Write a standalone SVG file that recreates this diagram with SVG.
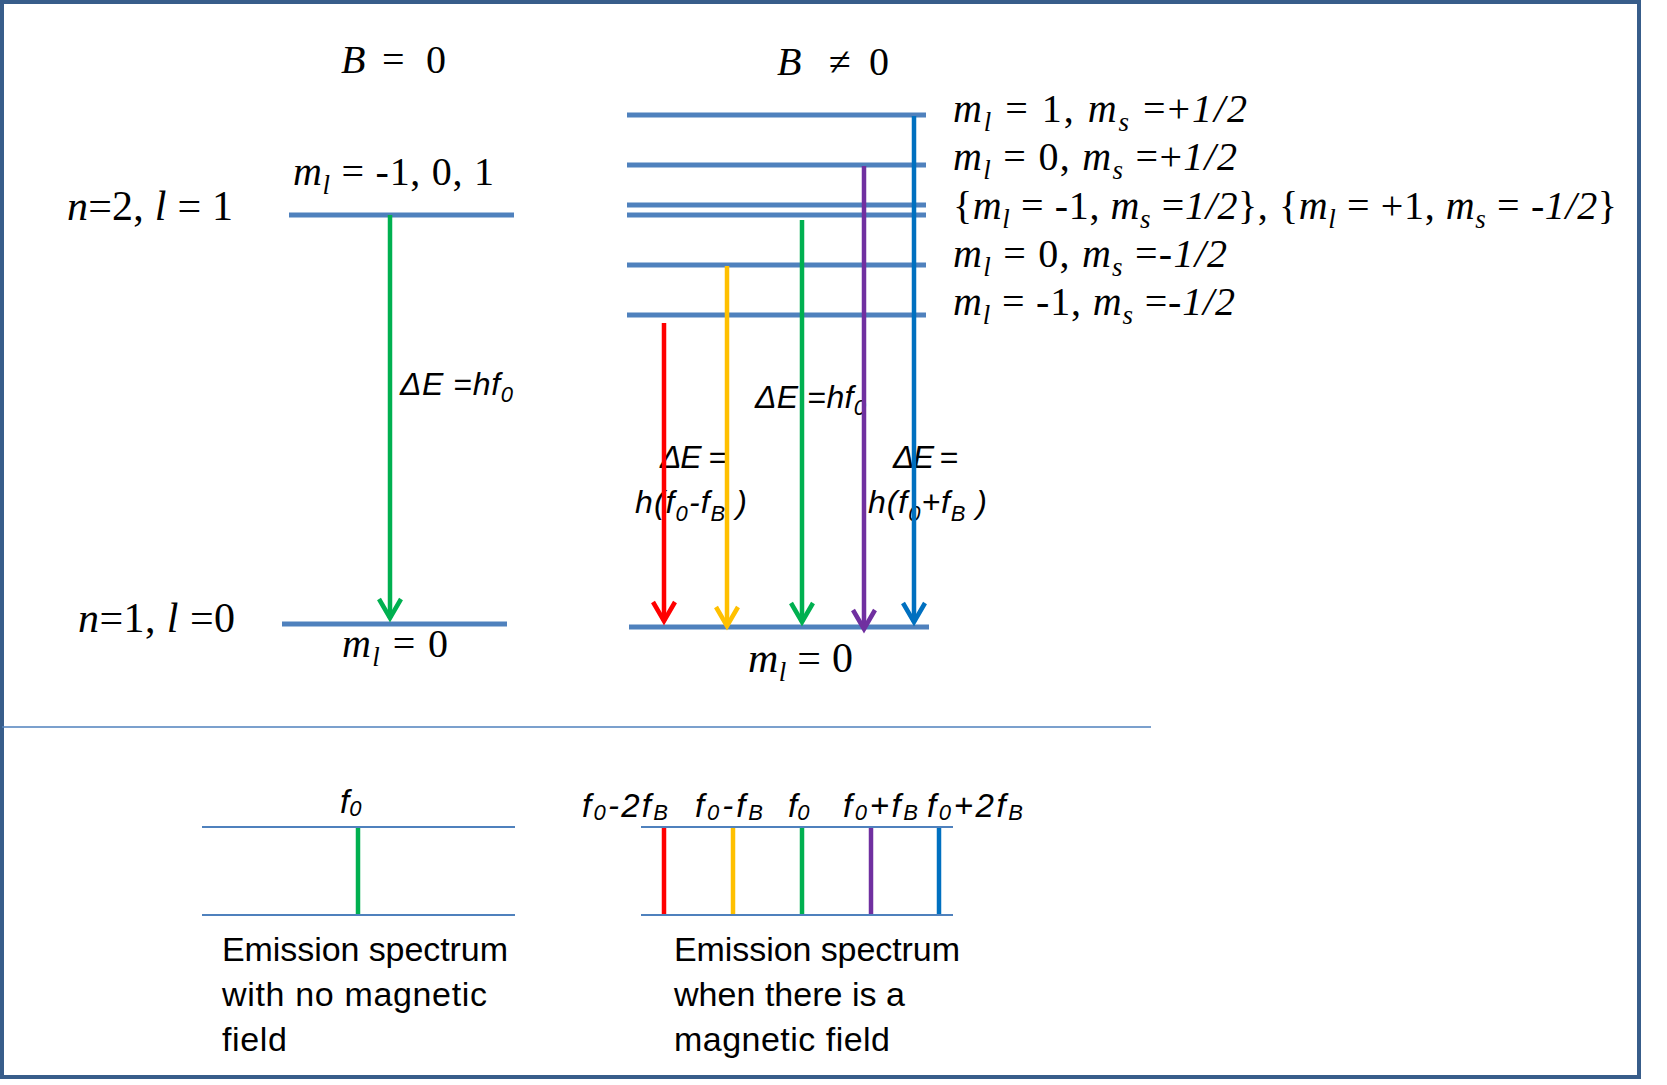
<svg xmlns="http://www.w3.org/2000/svg" width="1667" height="1085" viewBox="0 0 1667 1085">
<style>
.m{font-family:"Liberation Serif","Times New Roman",serif;fill:#000}
.c{font-family:"Liberation Sans",Arial,sans-serif;fill:#000}
.i{font-style:italic}
.lvl{stroke:#4F81BD;stroke-width:5;fill:none}
.spec{stroke:#4F81BD;stroke-width:2;fill:none}
.sub{font-size:27px}
.csub{font-size:22px}
</style>
<defs>
<marker id="ah-red" markerUnits="userSpaceOnUse" markerWidth="40" markerHeight="40" refX="0" refY="0" orient="auto" overflow="visible"><path d="M-19,-11 L0,0 L-19,11" fill="none" stroke="#FF0000" stroke-width="4.5"/></marker>
<marker id="ah-yellow" markerUnits="userSpaceOnUse" markerWidth="40" markerHeight="40" refX="0" refY="0" orient="auto" overflow="visible"><path d="M-19,-11 L0,0 L-19,11" fill="none" stroke="#FFC000" stroke-width="4.5"/></marker>
<marker id="ah-green" markerUnits="userSpaceOnUse" markerWidth="40" markerHeight="40" refX="0" refY="0" orient="auto" overflow="visible"><path d="M-19,-11 L0,0 L-19,11" fill="none" stroke="#00B050" stroke-width="4.5"/></marker>
<marker id="ah-purple" markerUnits="userSpaceOnUse" markerWidth="40" markerHeight="40" refX="0" refY="0" orient="auto" overflow="visible"><path d="M-19,-11 L0,0 L-19,11" fill="none" stroke="#7030A0" stroke-width="4.5"/></marker>
<marker id="ah-blue" markerUnits="userSpaceOnUse" markerWidth="40" markerHeight="40" refX="0" refY="0" orient="auto" overflow="visible"><path d="M-19,-11 L0,0 L-19,11" fill="none" stroke="#0070C0" stroke-width="4.5"/></marker>
</defs>
<rect x="0" y="0" width="1667" height="1085" fill="#FFFFFF"/>
<rect id="frame" x="2" y="2" width="1637" height="1075" fill="none" stroke="#385D8A" stroke-width="4"/>
<line id="separator" x1="2" y1="727" x2="1151" y2="727" stroke="#4F81BD" stroke-width="1.5"/>

<!-- titles -->
<g id="title-B0">
<text class="m" font-size="40" y="73"><tspan x="341" class="i">B</tspan><tspan x="382">=</tspan><tspan x="426">0</tspan></text>
</g>
<g id="title-Bne0">
<text class="m" font-size="40" y="75"><tspan x="777" class="i">B</tspan><tspan x="829">≠</tspan><tspan x="869">0</tspan></text>
</g>

<!-- B = 0 levels -->
<g id="level-n2-B0">
<line class="lvl" x1="289" y1="215" x2="514" y2="215"/>
<text class="m" font-size="40" x="293" y="185" textLength="201" lengthAdjust="spacing"><tspan class="i">m</tspan><tspan class="i sub" baseline-shift="-9">l</tspan> = -1, 0, 1</text>
<text class="m" font-size="42" x="67" y="220" textLength="166" lengthAdjust="spacing"><tspan class="i">n</tspan>=2, <tspan class="i">l</tspan> = 1</text>
</g>
<g id="level-n1-B0">
<line class="lvl" x1="282" y1="624" x2="507" y2="624"/>
<text class="m" font-size="42" x="78" y="632" textLength="157" lengthAdjust="spacing"><tspan class="i">n</tspan>=1, <tspan class="i">l</tspan> =0</text>
<text class="m" font-size="40" x="342" y="657" textLength="106" lengthAdjust="spacing"><tspan class="i">m</tspan><tspan class="i sub" baseline-shift="-9">l</tspan> = 0</text>
</g>
<g id="label-dE-B0">
<text class="c" font-size="32" x="400" y="395" textLength="113" lengthAdjust="spacing"><tspan class="i">ΔE</tspan> =<tspan class="i">hf</tspan><tspan class="i csub" baseline-shift="-7">0</tspan></text>
</g>

<!-- B != 0 levels -->
<g id="level-1">
<line class="lvl" x1="627" y1="115" x2="926" y2="115"/>
<text class="m" font-size="40" x="953" y="122" textLength="294" lengthAdjust="spacing"><tspan class="i">m</tspan><tspan class="i sub" baseline-shift="-9">l</tspan> =  1, <tspan class="i">m</tspan><tspan class="i sub" baseline-shift="-9">s</tspan> =+<tspan class="i">1/2</tspan></text>
</g>
<g id="level-2">
<line class="lvl" x1="627" y1="165" x2="926" y2="165"/>
<text class="m" font-size="40" x="953" y="170" textLength="284" lengthAdjust="spacing"><tspan class="i">m</tspan><tspan class="i sub" baseline-shift="-9">l</tspan> = 0, <tspan class="i">m</tspan><tspan class="i sub" baseline-shift="-9">s</tspan> =+<tspan class="i">1/2</tspan></text>
</g>
<g id="level-3">
<line class="lvl" x1="627" y1="205" x2="926" y2="205"/>
<line class="lvl" x1="627" y1="215" x2="926" y2="215"/>
<text class="m" font-size="40" x="953" y="219" textLength="664" lengthAdjust="spacing">{<tspan class="i">m</tspan><tspan class="i sub" baseline-shift="-9">l</tspan> =  -1, <tspan class="i">m</tspan><tspan class="i sub" baseline-shift="-9">s</tspan> =<tspan class="i">1/2</tspan>}, {<tspan class="i">m</tspan><tspan class="i sub" baseline-shift="-9">l</tspan> = +1, <tspan class="i">m</tspan><tspan class="i sub" baseline-shift="-9">s</tspan> = -<tspan class="i">1/2</tspan>}</text>
</g>
<g id="level-4">
<line class="lvl" x1="627" y1="265" x2="926" y2="265"/>
<text class="m" font-size="40" x="953" y="267" textLength="274" lengthAdjust="spacing"><tspan class="i">m</tspan><tspan class="i sub" baseline-shift="-9">l</tspan> = 0, <tspan class="i">m</tspan><tspan class="i sub" baseline-shift="-9">s</tspan> =-<tspan class="i">1/2</tspan></text>
</g>
<g id="level-5">
<line class="lvl" x1="627" y1="315" x2="926" y2="315"/>
<text class="m" font-size="40" x="953" y="315" textLength="282" lengthAdjust="spacing"><tspan class="i">m</tspan><tspan class="i sub" baseline-shift="-9">l</tspan> = -1, <tspan class="i">m</tspan><tspan class="i sub" baseline-shift="-9">s</tspan> =-<tspan class="i">1/2</tspan></text>
</g>
<g id="level-ground">
<line class="lvl" x1="629" y1="627" x2="929" y2="627"/>
<text class="m" font-size="42" x="748" y="672" textLength="105" lengthAdjust="spacing"><tspan class="i">m</tspan><tspan class="i sub" baseline-shift="-9">l</tspan> = 0</text>
</g>
<g id="labels-dE-B">
<text class="c" font-size="32" x="755" y="408" textLength="111" lengthAdjust="spacing"><tspan class="i">ΔE</tspan> =<tspan class="i">hf</tspan><tspan class="i csub" baseline-shift="-7">0</tspan></text>
<text class="c i" font-size="32" x="660" y="468" textLength="67" lengthAdjust="spacing">ΔE =</text>
<text class="c i" font-size="32" x="635" y="513" textLength="112" lengthAdjust="spacing">h(f<tspan class="csub" baseline-shift="-8">0</tspan>-f<tspan class="csub" baseline-shift="-8">B</tspan> )</text>
<text class="c i" font-size="32" x="893" y="468" textLength="65" lengthAdjust="spacing">ΔE =</text>
<text class="c i" font-size="32" x="868" y="513" textLength="119" lengthAdjust="spacing">h(f<tspan class="csub" baseline-shift="-8">0</tspan>+f<tspan class="csub" baseline-shift="-8">B</tspan> )</text>
</g>

<!-- connectors -->
<g id="connectors" fill="none" stroke-width="4.5">
<line x1="390" y1="215" x2="390" y2="618" stroke="#00B050" marker-end="url(#ah-green)"/>
<line x1="664" y1="323" x2="664" y2="621" stroke="#FF0000" marker-end="url(#ah-red)"/>
<line x1="727" y1="266" x2="727" y2="626" stroke="#FFC000" marker-end="url(#ah-yellow)"/>
<line x1="802" y1="220" x2="802" y2="622" stroke="#00B050" marker-end="url(#ah-green)"/>
<line x1="864" y1="166" x2="864" y2="629" stroke="#7030A0" marker-end="url(#ah-purple)"/>
<line x1="914" y1="116" x2="914" y2="622" stroke="#0070C0" marker-end="url(#ah-blue)"/>
</g>

<!-- spectra -->
<g id="spectrum-B0">
<line class="spec" x1="202" y1="827" x2="515" y2="827"/>
<line class="spec" x1="202" y1="915" x2="515" y2="915"/>
<line x1="358" y1="828" x2="358" y2="914" stroke="#00B050" stroke-width="4.5"/>
<text class="c i" font-size="33" x="340" y="813">f<tspan class="csub" baseline-shift="-3">0</tspan></text>
<text class="c" font-size="34" x="222" y="961" textLength="286" lengthAdjust="spacing">Emission spectrum</text>
<text class="c" font-size="34" x="222" y="1006" textLength="265" lengthAdjust="spacing">with no magnetic</text>
<text class="c" font-size="34" x="222" y="1051" textLength="65" lengthAdjust="spacing">field</text>
</g>
<g id="spectrum-B">
<line class="spec" x1="641" y1="827" x2="953" y2="827"/>
<line class="spec" x1="641" y1="915" x2="953" y2="915"/>
<line x1="664" y1="828" x2="664" y2="914" stroke="#FF0000" stroke-width="4.5"/>
<line x1="733" y1="828" x2="733" y2="914" stroke="#FFC000" stroke-width="4.5"/>
<line x1="802" y1="828" x2="802" y2="914" stroke="#00B050" stroke-width="4.5"/>
<line x1="871" y1="828" x2="871" y2="914" stroke="#7030A0" stroke-width="4.5"/>
<line x1="939" y1="828" x2="939" y2="914" stroke="#0070C0" stroke-width="4.5"/>
<text class="c i" font-size="33" x="582" y="817" textLength="86" lengthAdjust="spacing">f<tspan class="csub" baseline-shift="-3">0</tspan>-2f<tspan class="csub" baseline-shift="-3">B</tspan></text>
<text class="c i" font-size="33" x="695" y="817" textLength="68" lengthAdjust="spacing">f<tspan class="csub" baseline-shift="-3">0</tspan>-f<tspan class="csub" baseline-shift="-3">B</tspan></text>
<text class="c i" font-size="33" x="788" y="817">f<tspan class="csub" baseline-shift="-3">0</tspan></text>
<text class="c i" font-size="33" x="843" y="817" textLength="75" lengthAdjust="spacing">f<tspan class="csub" baseline-shift="-3">0</tspan>+f<tspan class="csub" baseline-shift="-3">B</tspan></text>
<text class="c i" font-size="33" x="927" y="817" textLength="96" lengthAdjust="spacing">f<tspan class="csub" baseline-shift="-3">0</tspan>+2f<tspan class="csub" baseline-shift="-3">B</tspan></text>
<text class="c" font-size="34" x="674" y="961" textLength="286" lengthAdjust="spacing">Emission spectrum</text>
<text class="c" font-size="34" x="674" y="1006" textLength="231" lengthAdjust="spacing">when there is a</text>
<text class="c" font-size="34" x="674" y="1051" textLength="216" lengthAdjust="spacing">magnetic field</text>
</g>
</svg>
